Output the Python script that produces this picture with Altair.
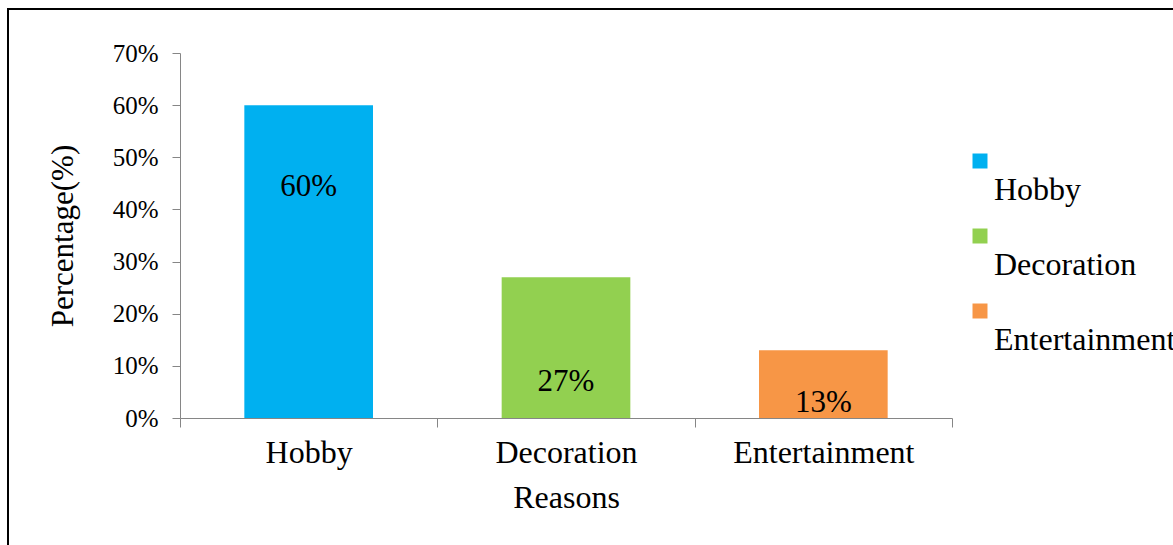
import altair as alt
import pandas as pd

categories = ["Hobby", "Decoration", "Entertainment"]
values = [60, 27, 13]
label_texts = ["60%", "27%", "13%"]
label_pos = [44.3, 6.9, 2.9]
colors = ["#00B0F0", "#92D050", "#F79646"]
y_ticks = [0, 10, 20, 30, 40, 50, 60, 70]

df = pd.DataFrame({"Reason": categories, "Value": values,
                   "Label": label_texts, "LabelPos": label_pos})

FONT = "Liberation Serif"
GRAY = "#868686"
# legend swatch drawn above-left of its label (unit path, scaled by the symbol size)
SWATCH = "M0.2586,-1.2586H0.7758V-0.7414H0.2586Z"

x_enc = alt.X(
    "Reason:N", sort=categories, title="Reasons",
    scale=alt.Scale(paddingInner=0, paddingOuter=0),
    axis=alt.Axis(labelAngle=0, labelFont=FONT, labelFontSize=32, labelColor="#000000",
                  labelLimit=400,
                  titleFont=FONT, titleFontSize=32, titleFontWeight="normal", titleColor="#000000",
                  tickBand="extent", tickSize=9, tickColor=GRAY, domainColor=GRAY,
                  labelPadding=10, titlePadding=14, grid=False),
)

bars = alt.Chart(df).mark_bar(width=alt.RelativeBandSize(0.5)).encode(
    x=x_enc,
    y=alt.Y("Value:Q", title="Percentage(%)",
            scale=alt.Scale(domain=[0, 70]),
            axis=alt.Axis(values=y_ticks, labelExpr="datum.value + '%'",
                          labelFont=FONT, labelFontSize=25, labelColor="#000000",
                          titleFont=FONT, titleFontSize=31, titleFontWeight="normal",
                          titleColor="#000000", tickSize=8, tickColor=GRAY,
                          domainColor=GRAY, labelPadding=14, titlePadding=33, grid=False)),
    color=alt.Color("Reason:N", sort=categories,
                    scale=alt.Scale(domain=categories, range=colors),
                    legend=alt.Legend(title=None, orient="none", legendX=756, legendY=108,
                                      symbolType=SWATCH, symbolSize=3364, symbolStrokeWidth=0,
                                      labelFont=FONT, labelFontSize=32, labelColor="#000000",
                                      labelLimit=600, labelOffset=0, rowPadding=22)),
)

labels = alt.Chart(df).mark_text(font=FONT, fontSize=31, color="#000000",
                                 baseline="middle", align="center").encode(
    x=alt.X("Reason:N", sort=categories),
    y=alt.Y("LabelPos:Q"),
    text="Label:N",
)

frame = alt.Chart(alt.Data(values=[{"a": 1}])).mark_rect(
    filled=False, stroke="#000000", strokeWidth=2
).encode(x=alt.value(-172), x2=alt.value(1200), y=alt.value(-44), y2=alt.value(700))

chart = alt.layer(frame, bars, labels).properties(
    width=772, height=365,
    autosize=alt.AutoSizeParams(type="none"),
    padding={"left": 180, "top": 53, "right": 221, "bottom": 127},
    background="#ffffff",
).configure_view(stroke=None)

chart.save("out.html", embed_options={"renderer": "svg", "actions": False})
